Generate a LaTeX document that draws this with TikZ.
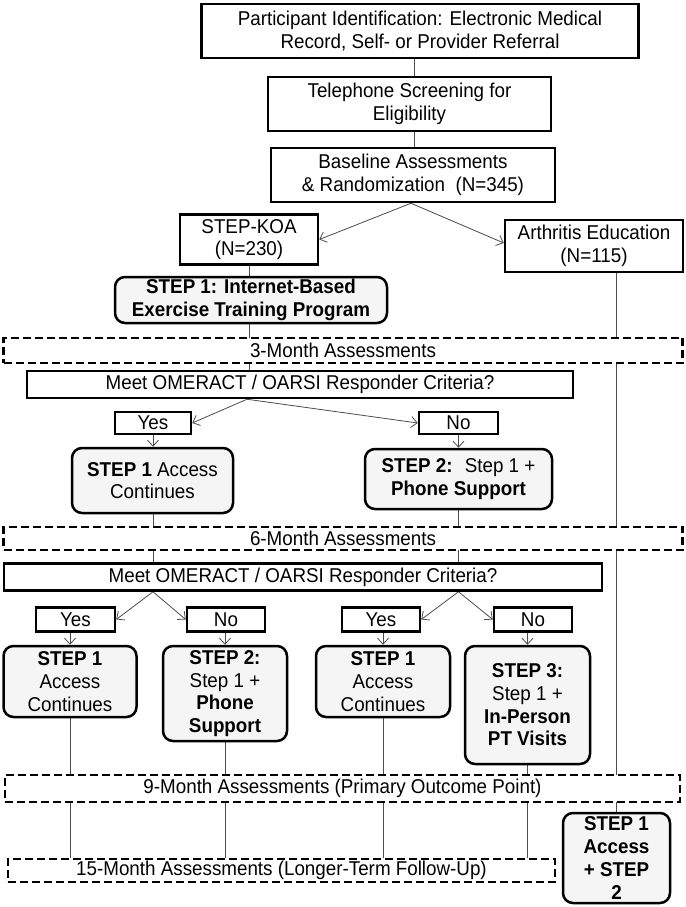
\documentclass[tikz,border=0pt]{standalone}
\usepackage{fontspec}
\setmainfont{Liberation Sans}[FakeStretch=0.94]
\usetikzlibrary{arrows.meta,calc}
\pgfdeclarelayer{bg}
\pgfsetlayers{bg,main}
\newcommand\myfs{\fontsize{20}{22.7}\selectfont}
\tikzset{
  box/.style={draw=black, line width=2.5pt, fill=white, align=center, inner sep=0pt, font=\myfs},
  rbox/.style={box, rounded corners=10pt, fill=gray!8},
  dbox/.style={box, line width=2.5pt, dash pattern=on 8pt off 4pt},
  conn/.style={line width=0.8pt, draw=black!70},
  arr/.style={conn, -{Straight Barb[length=6pt,width=11pt,line width=0.8pt]}},
}
\begin{document}
\begin{tikzpicture}[x=1pt,y=-1pt]
\useasboundingbox (0,0) rectangle (685,907);
% nodes
\node[box, minimum width=437, minimum height=54] (part) at (420,31) {Participant Identification: Electronic Medical\\Record, Self- or Provider Referral};
\node[box, minimum width=283, minimum height=54] (tel) at (409.5,104) {Telephone Screening for\\Eligibility};
\node[box, minimum width=284, minimum height=54] (base) at (413,175) {Baseline Assessments\\\& Randomization~~(N=345)};
\node[box, minimum width=138, minimum height=50] (koa) at (249,239.5) {STEP-KOA\\(N=230)};
\node[box, minimum width=178, minimum height=52] (arth) at (594,246) {Arthritis Education\\(N=115)};
\node[rbox, minimum width=272, minimum height=46] (s1int) at (251,300) {\textbf{STEP 1: Internet-Based}\\\textbf{Exercise Training Program}};
\node[dbox, minimum width=679, minimum height=25] (m3) at (343,350.5) {3-Month Assessments};
\node[box, minimum width=546, minimum height=27] (q1) at (300,384.5) {Meet OMERACT / OARSI Responder Criteria?};
\node[box, minimum width=76, minimum height=22] (y1) at (153,423) {Yes};
\node[box, minimum width=79, minimum height=22] (n1) at (458.5,423) {No};
\node[rbox, minimum width=161, minimum height=65] (a1) at (152.5,480.5) {\textbf{STEP 1} Access\\Continues};
\node[rbox, minimum width=187, minimum height=60] (b1) at (458.5,479) {\textbf{STEP 2:}~ Step 1 +\\\textbf{Phone Support}};
\node[dbox, minimum width=679, minimum height=23] (m6) at (343,538.5) {6-Month Assessments};
\node[box, minimum width=598, minimum height=27] (q2) at (303,577) {Meet OMERACT / OARSI Responder Criteria?};
\node[box, minimum width=79, minimum height=24] (y2a) at (75.5,619.5) {Yes};
\node[box, minimum width=78, minimum height=24] (n2a) at (226,619.5) {No};
\node[box, minimum width=78, minimum height=24] (y2b) at (381,619.5) {Yes};
\node[box, minimum width=78, minimum height=24] (n2b) at (533,619.5) {No};
\node[rbox, minimum width=133, minimum height=71] (c1) at (70,681.5) {\textbf{STEP 1}\\Access\\Continues};
\node[rbox, minimum width=124, minimum height=95] (c2) at (225,693.5) {\textbf{STEP 2:}\\Step 1 +\\\textbf{Phone}\\\textbf{Support}};
\node[rbox, minimum width=134, minimum height=71] (c3) at (383,681.5) {\textbf{STEP 1}\\Access\\Continues};
\node[rbox, minimum width=125, minimum height=118] (c4) at (527.5,705) {\textbf{STEP 3:}\\Step 1 +\\\textbf{In-Person}\\\textbf{PT Visits}};
\node[dbox, minimum width=675, minimum height=27] (m9) at (342.5,788.5) {9-Month Assessments (Primary Outcome Point)};
\node[dbox, minimum width=547, minimum height=23] (m15) at (281.5,870.5) {15-Month Assessments (Longer-Term Follow-Up)};
\node[rbox, minimum width=107, minimum height=90] (s12) at (616.5,858) {\textbf{STEP 1}\\\textbf{Access}\\\textbf{+ STEP}\\\textbf{2}};
% connectors
\begin{pgfonlayer}{bg}
\draw[conn] (part.south -| 414,0) -- (tel.north -| 414,0);
\draw[conn] (tel.south -| 414,0) -- (base.north -| 414,0);
\coordinate (bs) at ($(base.south)+(-2,0)$);
\draw[arr] (bs) -- (koa.east);
\draw[arr] (bs) -- ($(arth.west)+(0,-3)$);
\draw[conn] (koa.south) -- (koa.south |- q1.north);
\draw[conn] (arth.south -| s12.north) -- (s12.north);
\coordinate (q1s) at (q1.south -| 247,0);
\draw[arr] (q1s) -- (y1.east);
\draw[arr] (q1s) -- (n1.west);
\draw[arr] (y1.south) -- (y1.south |- a1.north);
\draw[arr] (n1.south) -- (b1.north);
\draw[conn] (a1.south -| y1.south) -- (y1.south |- q2.north);
\draw[conn] (b1.south) -- (b1.south |- q2.north);
\coordinate (q2a) at (q2.south -| y1.south);
\coordinate (q2b) at (q2.south -| n1.south);
\draw[arr] (q2a) -- (y2a.east);
\draw[arr] (q2a) -- (n2a.west);
\draw[arr] (q2b) -- (y2b.east);
\draw[arr] (q2b) -- (n2b.west);
\draw[arr] (y2a.south -| c1.north) -- (c1.north);
\draw[arr] (n2a.south -| c2.north) -- (c2.north);
\draw[arr] (y2b.south -| c3.north) -- (c3.north);
\draw[arr] (n2b.south -| c4.north) -- (c4.north);
\draw[conn] (c1.south) -- (c1.south |- m15.north);
\draw[conn] (c2.south) -- (c2.south |- m15.north);
\draw[conn] (c3.south) -- (c3.south |- m15.north);
\draw[conn] (c4.south) -- (c4.south |- m15.north);
\end{pgfonlayer}
\end{tikzpicture}
\end{document}
